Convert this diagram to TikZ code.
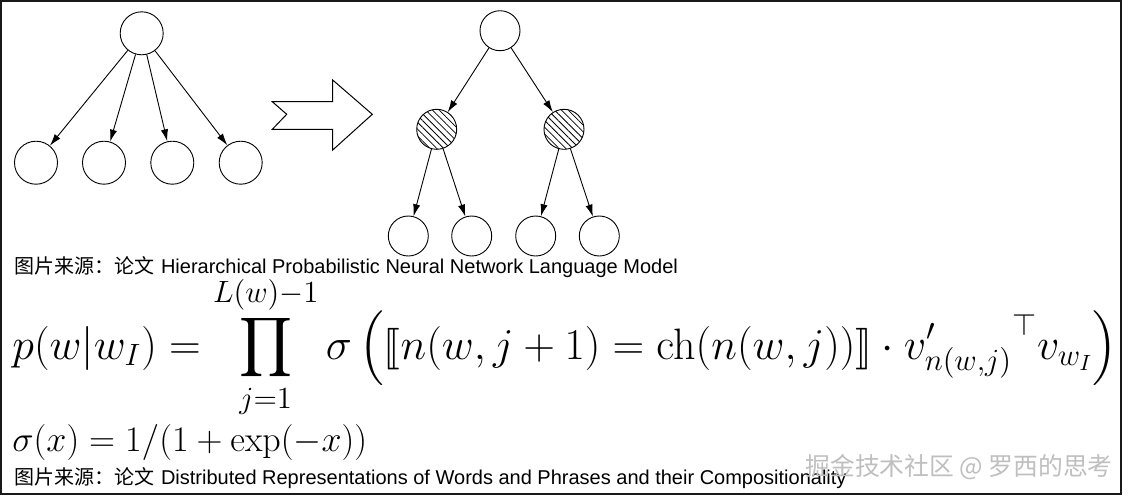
\documentclass[tikz,border=0pt]{standalone}
\usepackage{fix-cm}
\usepackage[no-math]{fontspec}
\usepackage{amsmath,stmaryrd}
\newfontfamily\capsans{Liberation Sans}
\newfontfamily\cjk{Noto Sans CJK SC}
\usetikzlibrary{arrows.meta,patterns.meta}
\tikzset{
  bubble/.style={circle, draw, line width=0.45pt, minimum size=21.5pt, inner sep=0pt},
  smallbubble/.style={bubble, minimum size=20pt},
  hatched/.style={smallbubble, pattern={Lines[angle=-45,distance=2.4pt,line width=0.4pt]}},
  edge/.style={line width=0.45pt, -{Latex[length=6pt,width=3.6pt]}},
  caption/.style={anchor=west, inner sep=0pt, font=\fontsize{10}{12}\selectfont}
}
\begin{document}
\begin{tikzpicture}[x=0.5pt, y=-0.5pt]
    % Canvas and frame
    \useasboundingbox (0,0) rectangle (1131,499);
    \fill[white] (0,0) rectangle (1131,499);
    \draw[line width=1pt, black!90] (1,1) rectangle (1121,494);
    % Flat softmax: root with four leaves
    \node[bubble] (flatroot) at (141.7,33.3) {};
    \foreach \i/\x in {1/36,2/104,3/172.3,4/240.7} {
      \node[bubble] (flat\i) at (\x,162.7) {};
      \draw[edge] (flatroot) -- (flat\i);
    }
    % Big hollow arrow
    \draw[line width=0.5pt, line join=miter] (272.3,101.7) -- (332.7,101.7) -- (332.7,80) -- (372.3,114.3)
      -- (332.7,150) -- (332.7,129.3) -- (272.3,129.3) -- (286.7,114.3) -- cycle;
    % Hierarchical softmax: binary tree
    \node[smallbubble] (treeroot) at (500,30.7) {};
    \node[hatched] (inner1) at (436.7,129.3) {};
    \node[hatched] (inner2) at (564,129.3) {};
    \draw[edge] (treeroot) -- (inner1);
    \draw[edge] (treeroot) -- (inner2);
    \foreach \i/\x/\p in {1/408.3/1,2/471.7/1,3/535.7/2,4/599.3/2} {
      \node[smallbubble] (word\i) at (\x,236) {};
      \draw[edge] (inner\p) -- (word\i);
    }
    % First caption
    \node[caption] (cap1) at (14,267) {{\cjk 图片来源：论文} {\capsans Hierarchical Probabilistic Neural Network Language Model}};
    % Main formula
    \node[anchor=base west, inner sep=0pt, font=\fontsize{22}{26}\selectfont] (eqprob) at (12,359)
      {$\displaystyle p(w|w_I)=\prod_{j=1}^{L(w)-1}\sigma\left(\llbracket n(w,j+1)=\mathrm{ch}(n(w,j))\rrbracket\cdot{v'_{n(w,j)}}^{\top}v_{w_I}\right)$};
    % Sigmoid
    \node[anchor=base west, inner sep=0pt, font=\fontsize{18}{21}\selectfont] (eqsig) at (12,451.5)
      {$\sigma(x)=1/(1+\exp(-x))$};
    % Second caption
    \node[caption] (cap2) at (14,478) {{\cjk 图片来源：论文} {\capsans Distributed Representations of Words and Phrases and their Compositionality}};
    % Watermark
    \node[anchor=west, inner sep=0pt, text=gray!50, font=\fontsize{12.4}{15}\selectfont] (mark) at (805,467) {\cjk 掘金技术社区 @ 罗西的思考};
  \end{tikzpicture}
\end{document}
